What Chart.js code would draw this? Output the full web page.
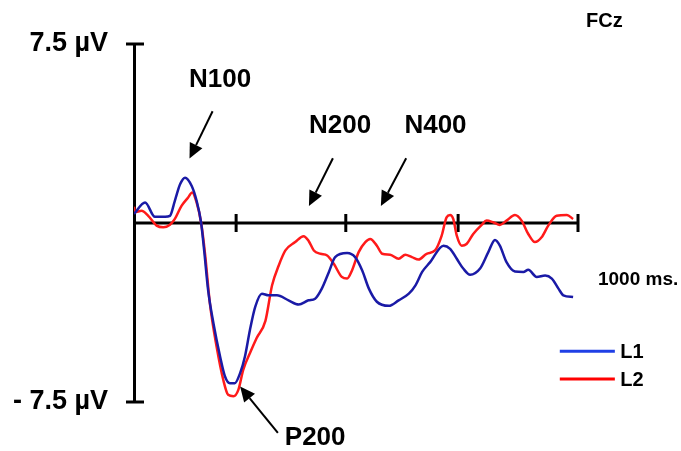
<!DOCTYPE html>
<html>
<head>
<meta charset="utf-8">
<title>FCz</title>
<script src="https://cdn.jsdelivr.net/npm/chart.js@4.4.1/dist/chart.umd.min.js"></script>
<style>
  body { margin: 0; background: #ffffff; }
  canvas { display: block; }
</style>
</head>
<body>
<canvas id="erpChart" width="681" height="451"></canvas>
<script>
// Time (ms) and amplitude (µV)
var timesL1 = [0, 25, 47, 70, 81, 92, 104, 115, 130, 141, 151, 158, 167, 179, 194, 205, 216, 227, 239, 250, 261, 273, 288, 303, 322, 348, 371, 393, 408, 423, 439, 453, 480, 498, 514, 529, 547, 574, 596, 619, 634, 649, 667, 697, 712, 727, 742, 757, 779, 798, 813, 824, 839, 858, 877, 888, 907, 926, 941, 956, 967, 989];
var valuesL1 = [0.38, 0.86, 0.26, 0.26, 0.30, 0.93, 1.63, 1.90, 1.55, 0.93, 0.03, -1.15, -2.82, -4.21, -5.60, -6.43, -6.71, -6.71, -6.29, -5.58, -4.49, -3.51, -2.96, -3.03, -3.03, -3.24, -3.42, -3.24, -3.17, -2.75, -2.05, -1.43, -1.26, -1.43, -1.99, -2.75, -3.30, -3.47, -3.24, -2.96, -2.61, -2.05, -1.64, -0.95, -1.08, -1.50, -1.92, -2.17, -1.92, -1.22, -0.71, -0.95, -1.64, -2.03, -2.05, -1.96, -2.26, -2.20, -2.33, -2.75, -3.03, -3.10];

var timesL2 = [0, 2, 17, 32, 51, 66, 81, 92, 107, 122, 131, 141, 151, 160, 171, 186, 201, 212, 224, 235, 246, 261, 276, 296, 311, 326, 341, 363, 382, 393, 405, 420, 435, 450, 468, 480, 491, 506, 521, 532, 547, 559, 577, 596, 611, 626, 641, 659, 678, 693, 704, 712, 719, 727, 738, 749, 764, 783, 794, 809, 824, 839, 858, 873, 888, 903, 918, 933, 952, 975, 989];
var valuesL2 = [0.68, 0.45, 0.51, 0.30, -0.11, -0.18, -0.07, 0.17, 0.72, 1.07, 1.28, 0.86, 0.03, -1.29, -3.38, -5.18, -6.57, -7.20, -7.26, -6.99, -6.15, -5.46, -4.83, -4.10, -2.61, -1.78, -1.15, -0.80, -0.55, -0.74, -1.15, -1.29, -1.36, -1.71, -2.26, -2.33, -1.99, -1.22, -0.80, -0.67, -0.95, -1.29, -1.33, -1.50, -1.33, -1.43, -1.53, -1.29, -1.15, -0.53, 0.24, 0.33, 0.17, -0.53, -0.95, -0.88, -0.46, -0.08, 0.10, 0.03, -0.08, 0.10, 0.33, 0.10, -0.46, -0.80, -0.60, -0.11, 0.30, 0.33, 0.17];

var seriesNames = ['L1', 'L2'];
var yTickValues = [7.5, -7.5];
var yTickLabels = ['7.5 µV', '- 7.5 µV'];
var xTickValues = [230, 477, 730, 1000];

// Labels and arrows, placed in data units (ms, µV)
var peakNotes = [
  { text: 'N100', x: 194, y: 5.71, from: [177, 4.68], to: [125, 2.70] },
  { text: 'N200', x: 464, y: 3.79, from: [448, 2.71], to: [394, 0.71] },
  { text: 'N400', x: 679, y: 3.79, from: [613, 2.71], to: [556, 0.71] },
  { text: 'P200', x: 408, y: -9.29, from: [324, -8.79], to: [239, -6.85] }
];

var lineColors = ['#1a1aa6', '#ff1a1a'];
var legendColors = ['#1f3fe6', '#ff0000'];
var boldFont = '"Liberation Sans", Arial, sans-serif';

function toPoints(times, values) {
  var pts = [];
  for (var i = 0; i < times.length; i++) {
    pts.push({ x: times[i], y: values[i] });
  }
  return pts;
}

function drawArrow(ctx, x1, y1, x2, y2) {
  var ang = Math.atan2(y2 - y1, x2 - x1);
  var len = 15, half = 7;
  var bx = x2 - Math.cos(ang) * len;
  var by = y2 - Math.sin(ang) * len;
  ctx.beginPath();
  ctx.moveTo(x1, y1);
  ctx.lineTo(bx, by);
  ctx.lineWidth = 2;
  ctx.stroke();
  ctx.beginPath();
  ctx.moveTo(x2, y2);
  ctx.lineTo(bx - Math.sin(ang) * half, by + Math.cos(ang) * half);
  ctx.lineTo(bx + Math.sin(ang) * half, by - Math.cos(ang) * half);
  ctx.closePath();
  ctx.fill();
}

// Zero line with ticks, y axis end bars
var axesPlugin = {
  id: 'erpAxes',
  beforeDatasetsDraw: function (chart) {
    var ctx = chart.ctx;
    var xs = chart.scales.x, ys = chart.scales.y;
    var y0 = ys.getPixelForValue(0);
    ctx.save();
    ctx.strokeStyle = '#000000';
    ctx.lineWidth = 3;
    ctx.beginPath();
    ctx.moveTo(xs.getPixelForValue(0), y0);
    ctx.lineTo(xs.getPixelForValue(1000), y0);
    ctx.stroke();
    xTickValues.forEach(function (v) {
      var px = xs.getPixelForValue(v);
      ctx.beginPath();
      ctx.moveTo(px, y0 - 9);
      ctx.lineTo(px, y0 + 9);
      ctx.stroke();
    });
    var left = chart.chartArea.left;
    yTickValues.forEach(function (v) {
      var py = ys.getPixelForValue(v);
      ctx.beginPath();
      ctx.moveTo(left - 8, py);
      ctx.lineTo(left + 10, py);
      ctx.stroke();
    });
    ctx.restore();
  },
  afterDraw: function (chart) {
    var ctx = chart.ctx;
    var xs = chart.scales.x, ys = chart.scales.y;
    ctx.save();
    ctx.fillStyle = '#000000';
    ctx.strokeStyle = '#000000';
    ctx.textBaseline = 'alphabetic';

    // peak names and arrows
    ctx.font = 'bold 26px ' + boldFont;
    ctx.textAlign = 'center';
    peakNotes.forEach(function (n) {
      ctx.fillText(n.text, xs.getPixelForValue(n.x), ys.getPixelForValue(n.y));
      drawArrow(ctx,
        xs.getPixelForValue(n.from[0]), ys.getPixelForValue(n.from[1]),
        xs.getPixelForValue(n.to[0]), ys.getPixelForValue(n.to[1]));
    });

    // electrode name and time label
    ctx.font = 'bold 20px ' + boldFont;
    ctx.textAlign = 'left';
    ctx.fillText('FCz', xs.getPixelForValue(1018), ys.getPixelForValue(8.21));
    ctx.font = 'bold 19px ' + boldFont;
    ctx.fillText('1000 ms.', xs.getPixelForValue(1045), ys.getPixelForValue(-2.58));

    // legend
    var legendY = [-5.375, -6.54];
    ctx.font = 'bold 20px ' + boldFont;
    chart.data.datasets.forEach(function (ds, i) {
      var py = ys.getPixelForValue(legendY[i]);
      ctx.strokeStyle = legendColors[i];
      ctx.lineWidth = 3;
      ctx.beginPath();
      ctx.moveTo(xs.getPixelForValue(959), py);
      ctx.lineTo(xs.getPixelForValue(1083), py);
      ctx.stroke();
      ctx.fillStyle = '#000000';
      ctx.fillText(ds.label, xs.getPixelForValue(1095), py + 7);
    });
    ctx.restore();
  }
};

var canvas = document.getElementById('erpChart');

var datos = {
  datasets: [
    {
      label: seriesNames[0],
      data: toPoints(timesL1, valuesL1),
      borderColor: lineColors[0],
      borderWidth: 2.5,
      pointRadius: 0,
      cubicInterpolationMode: 'monotone',
      fill: false
    },
    {
      label: seriesNames[1],
      data: toPoints(timesL2, valuesL2),
      borderColor: lineColors[1],
      borderWidth: 2.5,
      pointRadius: 0,
      cubicInterpolationMode: 'monotone',
      fill: false
    }
  ]
};

var configuracion = {
  type: 'line',
  data: datos,
  plugins: [axesPlugin],
  options: {
    responsive: false,
    animation: false,
    layout: { padding: { left: 10, right: 103, top: 44, bottom: 49 } },
    plugins: {
      legend: { display: false },
      tooltip: { enabled: false }
    },
    scales: {
      x: {
        type: 'linear',
        min: 0,
        max: 1000,
        display: false
      },
      y: {
        min: -7.5,
        max: 7.5,
        afterFit: function (scale) { scale.width = 124; },
        afterBuildTicks: function (scale) {
          scale.ticks = yTickValues.map(function (v) { return { value: v }; });
        },
        grid: { display: false, drawTicks: false },
        border: { display: true, color: '#000000', width: 3 },
        ticks: {
          padding: 26,
          color: '#000000',
          font: { family: boldFont, size: 27, weight: 'bold' },
          callback: function (value) {
            var i = yTickValues.indexOf(value);
            return i >= 0 ? yTickLabels[i] : '';
          }
        }
      }
    }
  }
};

var miGrafico = new Chart(canvas, configuracion);
</script>
</body>
</html>
